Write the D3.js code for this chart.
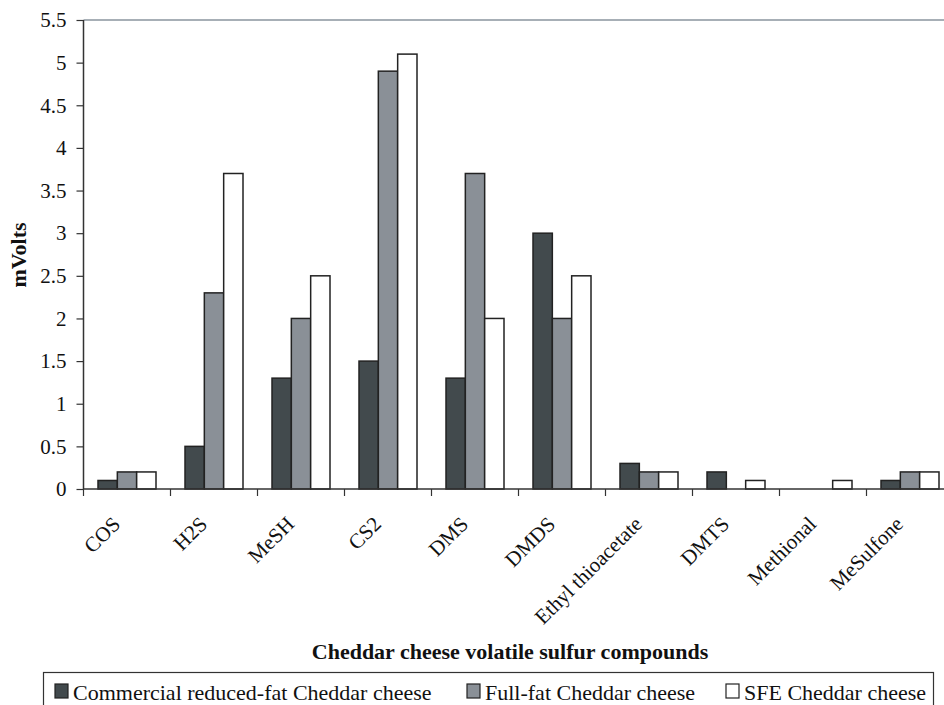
<!DOCTYPE html>
<html><head><meta charset="utf-8">
<script src="https://cdn.jsdelivr.net/npm/d3@7/dist/d3.min.js"></script>
<style>body{margin:0;background:#fff}svg{display:block}text{font-family:"Liberation Serif","Times New Roman",serif;fill:#111}</style>
</head><body>
<script>
const categories = ["COS","H2S","MeSH","CS2","DMS","DMDS","Ethyl thioacetate","DMTS","Methional","MeSulfone"];
const seriesNames = ["Commercial reduced-fat Cheddar cheese","Full-fat Cheddar cheese","SFE Cheddar cheese"];
const reducedFat = [0.1,0.5,1.3,1.5,1.3,3.0,0.3,0.2,0,0.1];
const fullFat    = [0.2,2.3,2.0,4.9,3.7,2.0,0.2,0,0,0.2];
const sfe        = [0.2,3.7,2.5,5.1,2.0,2.5,0.2,0.1,0.1,0.2];
const yTicks = [0,0.5,1,1.5,2,2.5,3,3.5,4,4.5,5,5.5];
const colors = ["#424a4d","#8a9097","#ffffff"];
const seriesValues = [reducedFat, fullFat, sfe];

const W=944,H=705;
const svg=d3.select("body").append("svg").attr("width",W).attr("height",H);
const x0=83.5, plotTop=20, plotBot=489;
const bandW=87;
const x=d3.scaleBand().domain(categories).range([x0,x0+bandW*categories.length]).paddingInner(1/3).paddingOuter(1/6);
const xs=d3.scaleBand().domain([0,1,2]).range([0,x.bandwidth()]);
const y=d3.scaleLinear().domain([0,5.5]).range([plotBot,plotTop]);

// top border
svg.append("line").attr("x1",x0).attr("x2",W).attr("y1",plotTop).attr("y2",plotTop).attr("stroke","#8a949e").attr("stroke-width",1.5);

// bars
categories.forEach((c,i)=>{
  seriesValues.forEach((vals,s)=>{
    const v=vals[i];
    if(v<=0) return;
    svg.append("rect").attr("x",x(c)+xs(s)).attr("y",y(v)).attr("width",xs.bandwidth()).attr("height",y(0)-y(v))
      .attr("fill",colors[s]).attr("stroke","#222").attr("stroke-width",1.5);
  });
});

// y axis
const ya=svg.append("g").attr("transform",`translate(${x0},0)`).call(d3.axisLeft(y).tickValues(yTicks).tickSize(7).tickPadding(10).tickFormat(d=>d));
ya.select(".domain").attr("stroke","#333").attr("stroke-width",1.5).attr("d",`M-0,${plotTop}V${plotBot}`);
ya.selectAll(".tick line").attr("stroke","#333").attr("stroke-width",1.2);
ya.selectAll(".tick text").style("font-size","21px").attr("fill","#111");

// x axis baseline and ticks
svg.append("line").attr("x1",x0).attr("x2",W).attr("y1",plotBot).attr("y2",plotBot).attr("stroke","#333").attr("stroke-width",1.5);
const tickXs=d3.range(categories.length+1).map(i=>x0+i*bandW);
svg.selectAll(".xt").data(tickXs).enter().append("line").attr("x1",d=>d).attr("x2",d=>d).attr("y1",plotBot).attr("y2",plotBot+7).attr("stroke","#333").attr("stroke-width",1.2);

// category labels
svg.selectAll(".cl").data(categories).enter().append("text")
  .attr("transform",d=>`translate(${x(d)+x.bandwidth()/2-16},${plotBot+26}) rotate(-45)`)
  .attr("text-anchor","end").attr("dy","0.7em").style("font-size","21px").text(d=>d);

// axis titles
svg.append("text").attr("transform",`translate(26,255) rotate(-90)`).attr("text-anchor","middle")
  .style("font-size","22px").style("font-weight","bold").text("mVolts");
svg.append("text").attr("x",510).attr("y",659).attr("text-anchor","middle")
  .style("font-size","22px").style("font-weight","bold").text("Cheddar cheese volatile sulfur compounds");

// legend
svg.append("rect").attr("x",43.5).attr("y",672.5).attr("width",890).attr("height",40).attr("fill","none").attr("stroke","#333").attr("stroke-width",1.2);
const legX=[55,467,726];
seriesNames.forEach((n,i)=>{
  svg.append("rect").attr("x",legX[i]).attr("y",684).attr("width",13).attr("height",14).attr("fill",colors[i]).attr("stroke","#222").attr("stroke-width",1.2);
  svg.append("text").attr("x",legX[i]+18).attr("y",700).style("font-size","22px").text(n);
});
</script>
</body></html>
